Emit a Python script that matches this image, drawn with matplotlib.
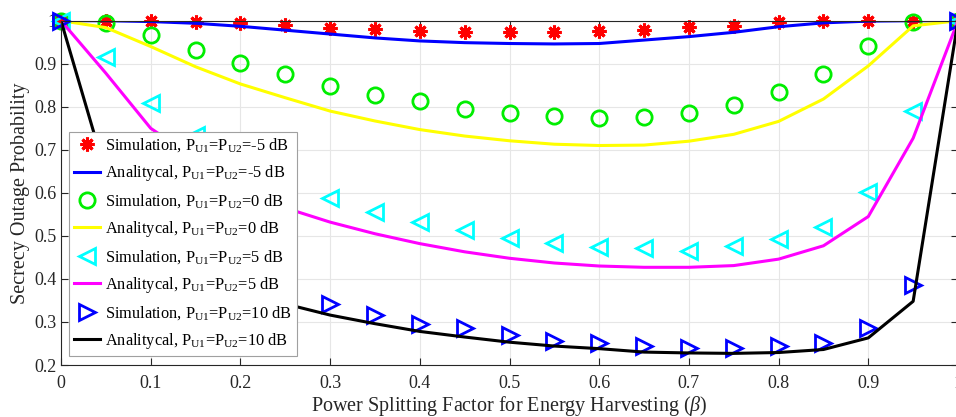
import matplotlib
matplotlib.use("Agg")
import matplotlib.pyplot as plt
import numpy as np

plt.rcParams['font.family'] = ['Liberation Serif', 'DejaVu Serif']
plt.rcParams['mathtext.fontset'] = 'custom'
plt.rcParams['mathtext.rm'] = 'Liberation Serif'
plt.rcParams['mathtext.it'] = 'Liberation Serif:italic'

beta = [0, 0.05, 0.1, 0.15, 0.2, 0.25, 0.3, 0.35, 0.4, 0.45, 0.5,
        0.55, 0.6, 0.65, 0.7, 0.75, 0.8, 0.85, 0.9, 0.95, 1.0]

sim_m5 = [1.0, 1.0, 1.0, 0.998, 0.994, 0.989, 0.984, 0.980, 0.976, 0.973, 0.973,
          0.973, 0.975, 0.978, 0.985, 0.988, 0.996, 1.0, 1.0, 1.0, 1.0]
ana_m5 = [1.0, 1.0, 0.998, 0.994, 0.987, 0.978, 0.969, 0.960, 0.953, 0.949, 0.947,
          0.946, 0.947, 0.955, 0.963, 0.973, 0.986, 0.995, 0.999, 1.0, 1.0]
sim_0 = [1.0, 0.995, 0.967, 0.932, 0.902, 0.876, 0.848, 0.828, 0.813, 0.795, 0.785,
         0.778, 0.774, 0.777, 0.785, 0.803, 0.834, 0.877, 0.941, 0.998, 1.0]
ana_0 = [1.0, 0.984, 0.94, 0.893, 0.853, 0.821, 0.79, 0.767, 0.747, 0.732, 0.721,
         0.713, 0.710, 0.711, 0.72, 0.736, 0.766, 0.818, 0.895, 0.988, 1.0]
sim_5 = [1.0, 0.916, 0.809, 0.734, 0.675, 0.625, 0.587, 0.556, 0.533, 0.513, 0.496,
         0.484, 0.474, 0.471, 0.465, 0.476, 0.492, 0.521, 0.602, 0.79, 1.0]
ana_5 = [1.0, 0.878, 0.75, 0.68, 0.615, 0.565, 0.532, 0.505, 0.482, 0.463, 0.448,
         0.437, 0.430, 0.427, 0.427, 0.431, 0.446, 0.477, 0.545, 0.727, 1.0]
sim_10 = [1.0, 0.66, 0.53, 0.46, 0.41, 0.372, 0.341, 0.316, 0.296, 0.285, 0.269,
          0.256, 0.250, 0.244, 0.240, 0.240, 0.243, 0.251, 0.285, 0.385, 1.0]
ana_10 = [1.0, 0.645, 0.51, 0.435, 0.382, 0.342, 0.316, 0.296, 0.278, 0.265, 0.253,
          0.244, 0.238, 0.230, 0.228, 0.227, 0.229, 0.236, 0.263, 0.348, 1.0]

xticks = [0, 0.1, 0.2, 0.3, 0.4, 0.5, 0.6, 0.7, 0.8, 0.9, 1.0]
xticklabels = ['0', '0.1', '0.2', '0.3', '0.4', '0.5', '0.6', '0.7', '0.8', '0.9', '1']
yticks = [0.2, 0.3, 0.4, 0.5, 0.6, 0.7, 0.8, 0.9, 1.0]
yticklabels = ['0.2', '0.3', '0.4', '0.5', '0.6', '0.7', '0.8', '0.9', '1']

lab = lambda kind, p: kind + r', P$_{\mathrm{U1}}$=P$_{\mathrm{U2}}$=' + p + ' dB'

fig = plt.figure(figsize=(9.56, 4.17), dpi=100)
ax = fig.add_axes([61/956, 52/417, 897/956, 344.3/417])

lw = 2.2
ax.plot(beta, sim_m5, linestyle='none', marker=(8, 2, 0), ms=10, mew=2.2,
        color='#ff0000', label=lab('Simulation', '-5'), clip_on=False)
ax.plot(beta, ana_m5, color='#0000ff', lw=lw, label=lab('Analitycal', '-5'))
ax.plot(beta, sim_0, linestyle='none', marker='o', ms=11, mew=2, mfc='none',
        color='#00ee00', label=lab('Simulation', '0'), clip_on=False)
ax.plot(beta, ana_0, color='#ffff00', lw=lw, label=lab('Analitycal', '0'))
ax.plot(beta, sim_5, linestyle='none', marker='<', ms=12, mew=2, mfc='none',
        color='#00ffff', label=lab('Simulation', '5'), clip_on=False)
ax.plot(beta, ana_5, color='#ff00ff', lw=lw, label=lab('Analitycal', '5'))
ax.plot(beta, sim_10, linestyle='none', marker='>', ms=12, mew=2, mfc='none',
        color='#0000ff', label=lab('Simulation', '10'), clip_on=False)
ax.plot(beta, ana_10, color='#000000', lw=lw, label=lab('Analitycal', '10'))

ax.set_xlim(0, 1)
ax.set_ylim(0.2, 1)
ax.set_xticks(xticks)
ax.set_xticklabels(xticklabels)
ax.set_yticks(yticks)
ax.set_yticklabels(yticklabels)
ax.tick_params(direction='in', top=True, right=True, labelsize=13, length=5,
               width=0.8, colors='#262626')
ax.tick_params(axis='x', pad=7)
ax.grid(True, color='#e6e6e6', lw=0.8)
ax.set_axisbelow(True)
for s in ax.spines.values():
    s.set_color('#262626')
    s.set_linewidth(0.8)

ax.set_xlabel(r'Power Splitting Factor for Energy Harvesting ($\mathit{\beta}$)',
              fontsize=14.5, color='#262626', labelpad=2)
ax.set_ylabel('Secrecy Outage Probability', fontsize=14.5, color='#262626', labelpad=3)

leg = ax.legend(loc='lower left', bbox_to_anchor=(0.009, 0.027), borderaxespad=0,
                fontsize=11.8, fancybox=False, framealpha=1, edgecolor='#a0a0a0',
                handlelength=1.6, handletextpad=0.3, labelspacing=0.55,
                borderpad=0.3, numpoints=1)
leg.get_frame().set_linewidth(0.8)
leg.set_zorder(5)

fig.savefig('out.png', dpi=100)
